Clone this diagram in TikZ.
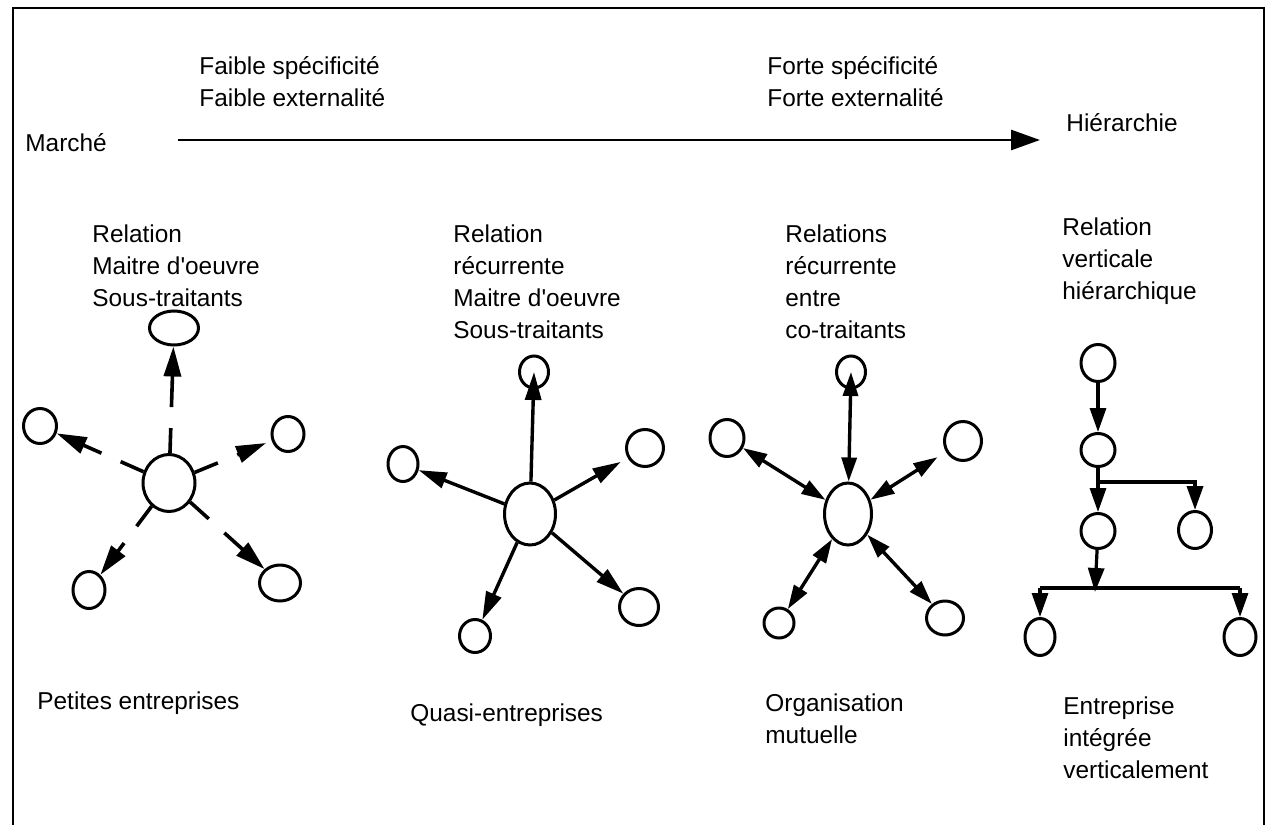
\documentclass[tikz,border=0pt]{standalone}
\usepackage{fontspec}
\setmainfont{Liberation Sans}
\usetikzlibrary{arrows.meta,shapes.geometric}
\begin{document}
\begin{tikzpicture}[x=0.5pt,y=-0.5pt,
  nd/.style={draw, ellipse, line width=1.5pt, inner sep=0pt},
  lbl/.style={font=\fontsize{12.2}{16}\selectfont, align=left, inner sep=0pt, anchor=north west},
  frame/.style={line width=1.3pt},
  bigarrow/.style={line width=1.4pt, -{Triangle[length=14.5pt,width=10pt]}},
  dasharr/.style={line width=1.8pt, dash pattern=on 12.5pt off 10.5pt on 300pt, -{Triangle[length=15pt,width=8.5pt]}},
  solarr/.style={line width=1.7pt, -{Triangle[length=14pt,width=8pt]}},
  dblarr/.style={line width=1.7pt, {Triangle[length=12pt,width=7.5pt]}-{Triangle[length=12pt,width=7.5pt]}},
  hierarr/.style={line width=1.6pt, -{Triangle[length=12pt,width=8pt]}},
  hierline/.style={line width=1.8pt}
]
\useasboundingbox (0,0) rectangle (1268,824);
\draw[frame] (13,830) -- (13,8) -- (1264,8) -- (1264,830);

% header
\node[lbl] (fs) at (199,56) {Faible spécificité\\Faible externalité};
\node[lbl] (fo) at (767,56) {Forte spécificité\\Forte externalité};
\node[lbl] (marche) at (25,133) {Marché};
\node[lbl] (hier) at (1066,113) {Hiérarchie};
\coordinate (a0) at (178,140);
\coordinate (a1) at (1040,140);
\draw[bigarrow] (a0) -- (a1);

% column labels
\node[lbl] (t1) at (92,224) {Relation\\Maitre d\textquotesingle oeuvre\\Sous-traitants};
\node[lbl] (t2) at (453,224) {Relation\\récurrente\\Maitre d\textquotesingle oeuvre\\Sous-traitants};
\node[lbl] (t3) at (785,224) {Relations\\récurrente\\entre\\co-traitants};
\node[lbl] (t4) at (1062,217) {Relation\\verticale\\hiérarchique};

\node[lbl] (b1l) at (37,691) {Petites entreprises};
\node[lbl] (b2l) at (410,703) {Quasi-entreprises};
\node[lbl] (b3l) at (765,693) {Organisation\\mutuelle};
\node[lbl] (b4l) at (1063,696) {Entreprise\\intégrée\\verticalement};

% column 1
\node[nd, minimum width=26pt, minimum height=28.5pt] (c1) at (169,483) {};
\node[nd, minimum width=24.5pt, minimum height=17pt] (c1t) at (174,328) {};
\node[nd, minimum width=16.5pt, minimum height=17.5pt] (c1l) at (40,426) {};
\node[nd, minimum width=16pt, minimum height=17.5pt] (c1r) at (288,434) {};
\node[nd, minimum width=16pt, minimum height=18.5pt] (c1bl) at (89,590) {};
\node[nd, minimum width=20.5pt, minimum height=18pt] (c1br) at (280,583) {};
\draw[dasharr] (c1) -- (c1t);
\draw[dasharr] (c1) -- (c1l);
\draw[dasharr, shorten >=3pt] (c1) -- (c1r);
\draw[dasharr] (c1) -- (c1bl);
\draw[dasharr] (c1) -- (c1br);

% column 2
\node[nd, minimum width=25.5pt, minimum height=31pt] (c2) at (530,514) {};
\node[nd, minimum width=14.5pt, minimum height=16pt] (c2t) at (534,372) {};
\node[nd, minimum width=15pt, minimum height=17.5pt] (c2l) at (403,464) {};
\node[nd, minimum width=18.5pt, minimum height=18.5pt] (c2r) at (645,448) {};
\node[nd, minimum width=15.5pt, minimum height=16.5pt] (c2bl) at (475,636) {};
\node[nd, minimum width=19.5pt, minimum height=18.5pt] (c2br) at (639,607) {};
\draw[solarr] (c2) -- (c2t.center);
\draw[solarr] (c2) -- (c2l);
\draw[solarr, shorten >=4pt] (c2) -- (c2r);
\draw[solarr] (c2) -- (c2bl);
\draw[solarr] (c2) -- (c2br);

% column 3
\node[nd, minimum width=23.5pt, minimum height=31pt] (c3) at (848,514) {};
\node[nd, minimum width=14.5pt, minimum height=16pt] (c3t) at (851,372) {};
\node[nd, minimum width=17pt, minimum height=18.5pt] (c3l) at (727,438) {};
\node[nd, minimum width=18.5pt, minimum height=19.5pt] (c3r) at (963,441) {};
\node[nd, minimum width=15pt, minimum height=15pt] (c3bl) at (779,623) {};
\node[nd, minimum width=18.5pt, minimum height=17pt] (c3br) at (945,618) {};
\draw[dblarr] (c3) -- (c3t.center);
\draw[dblarr] (c3) -- (c3l);
\draw[dblarr, shorten >=5pt] (c3) -- (c3r);
\draw[dblarr] (c3) -- (c3bl);
\draw[dblarr] (c3) -- (c3br);

% column 4
\node[nd, minimum width=17pt, minimum height=18.5pt] (n1) at (1098,363) {};
\node[nd, minimum width=17pt, minimum height=16.5pt] (n2) at (1098,450) {};
\node[nd, minimum width=17pt, minimum height=17.5pt] (n3) at (1098,531) {};
\node[nd, minimum width=16.5pt, minimum height=18.5pt] (n4) at (1195,530) {};
\node[nd, minimum width=15pt, minimum height=18.5pt] (n5) at (1040,637) {};
\node[nd, minimum width=16pt, minimum height=18.5pt] (n6) at (1240,637) {};
\coordinate (h1) at (1098,482);
\coordinate (h2) at (1095,592);
\coordinate (h3) at (1040,588);
\coordinate (h4) at (1240,588);
\draw[hierarr] (n1) -- (n2);
\draw[hierarr] (n2) -- (n3);
\draw[hierarr, line width=1.8pt] (h1) -| (n4);
\draw[hierarr] (n3) -- (h2);
\draw[hierline] (h3) -- (h4);
\draw[hierarr] (h3) -- (n5);
\draw[hierarr] (h4) -- (n6);
\end{tikzpicture}
\end{document}
